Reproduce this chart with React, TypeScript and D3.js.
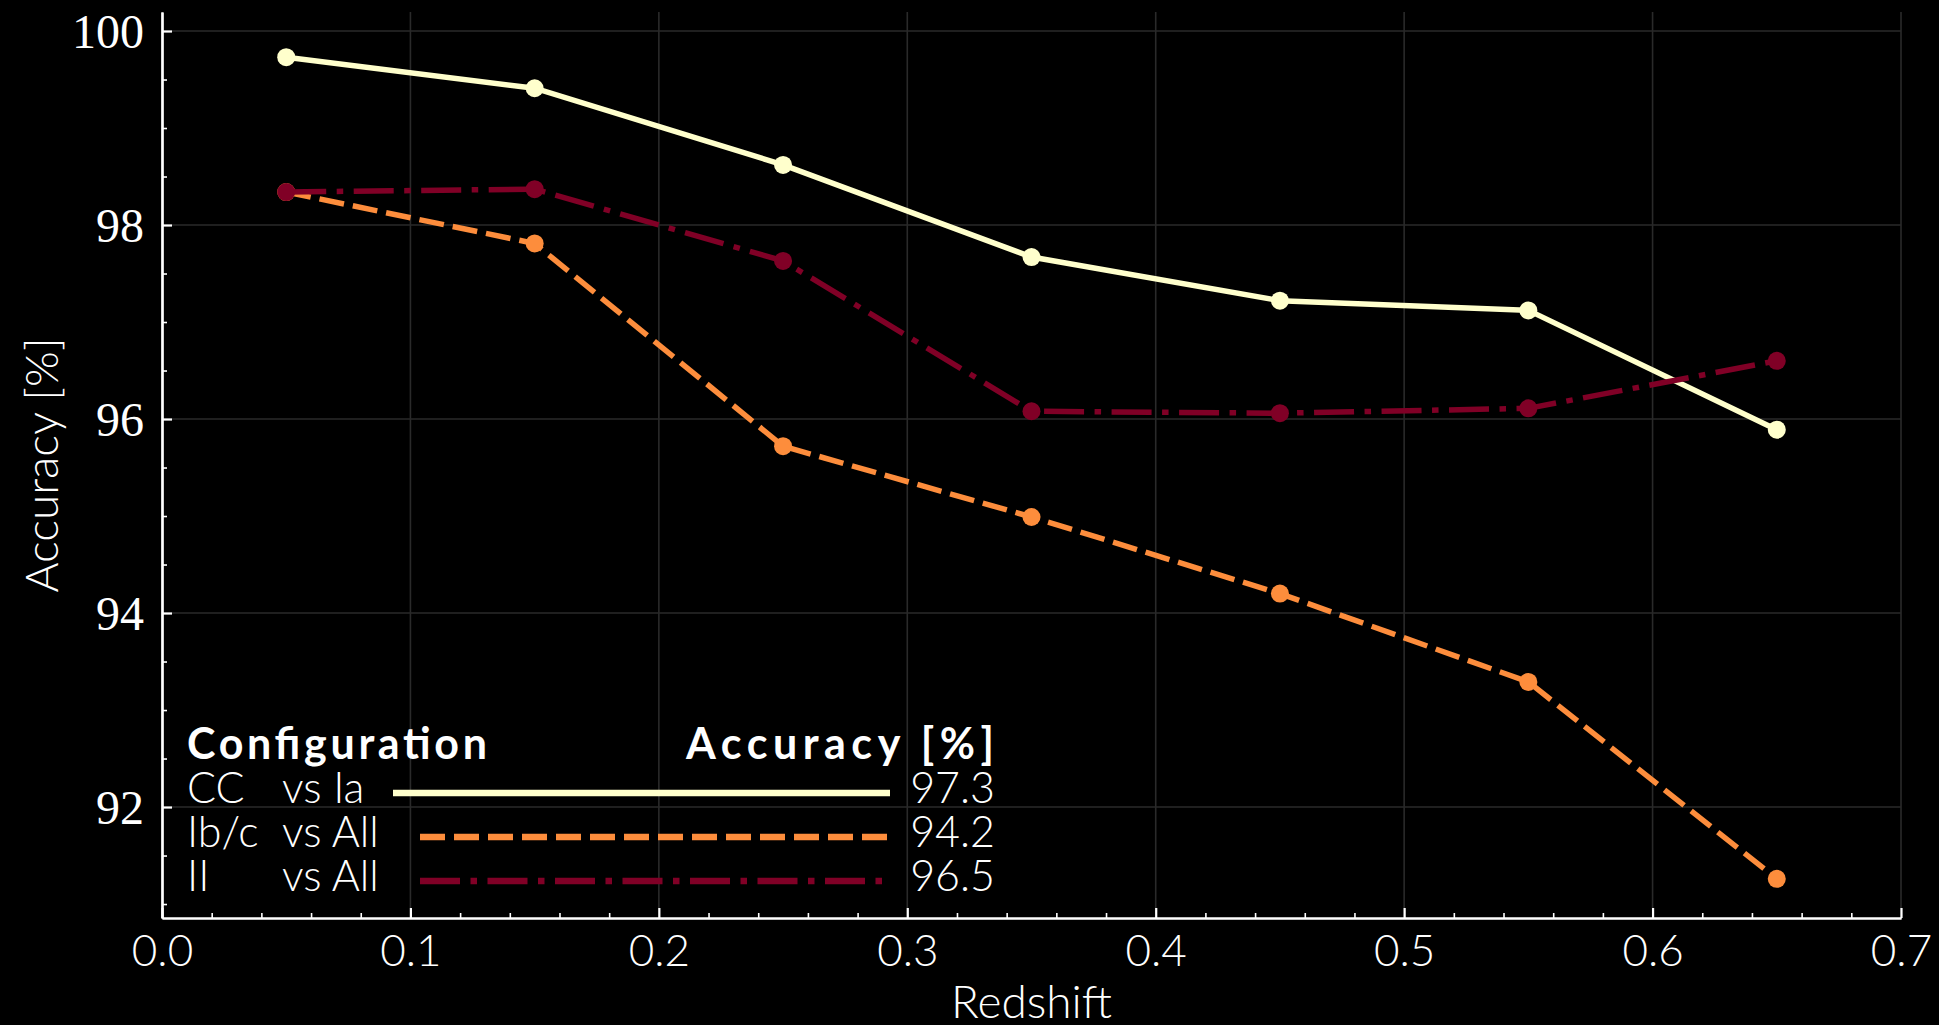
import React, { useEffect, useRef } from "react";
import * as d3 from "d3";

// redshift bins (bin centres)
const redshift = [0.05, 0.15, 0.25, 0.35, 0.45, 0.55, 0.65];

// accuracy per bin, in %
const ccVsIa = [99.73, 99.41, 98.62, 97.67, 97.22, 97.12, 95.89];
const ibcVsAll = [98.34, 97.81, 95.72, 94.99, 94.2, 93.29, 91.26];
const iiVsAll = [98.34, 98.37, 97.63, 96.08, 96.06, 96.11, 96.6];

// legend table
const legendConfig = ["CC", "Ib/c", "II"];
const legendVs = ["vs Ia", "vs All", "vs All"];
const legendAccuracy = ["97.3", "94.2", "96.5"];

const xTicks = [0, 0.1, 0.2, 0.3, 0.4, 0.5, 0.6, 0.7];
const yTicks = [92, 94, 96, 98, 100];

const SANS = "Lato, 'Open Sans', sans-serif";
const SERIF = "'Liberation Serif', 'DejaVu Serif', serif";

const App = () => {
    const chartRef = useRef<HTMLDivElement>(null);

    useEffect(() => {
        const width = 1939;
        const height = 1025;
        const left = 162;
        const right = 1901;
        const top = 12;
        const bottom = 918;

        d3.select(chartRef.current).select("svg").remove();

        const svg = d3
            .select(chartRef.current)
            .append("svg")
            .attr("width", width)
            .attr("height", height)
            .style("display", "block")
            .style("background", "#000");

        const x = d3.scaleLinear().domain([0, 0.7]).range([left, right]);
        const y = d3.scaleLinear().domain([90.856, 100.196]).range([bottom, top]);

        // grid
        const grid = svg.append("g").attr("stroke", "#2a2a2a").attr("stroke-width", 1.6);
        grid.selectAll(".gx")
            .data(xTicks)
            .enter()
            .append("line")
            .attr("x1", (d) => x(d))
            .attr("x2", (d) => x(d))
            .attr("y1", top)
            .attr("y2", bottom);
        grid.selectAll(".gy")
            .data(yTicks)
            .enter()
            .append("line")
            .attr("x1", left)
            .attr("x2", right)
            .attr("y1", (d) => y(d))
            .attr("y2", (d) => y(d));

        // axes, ticks pointing inward
        const xMinor = d3.range(1, 35).map((i) => i * 0.02).filter((_, i) => (i + 1) % 5 !== 0);
        const yMinor = d3.range(91, 100.01, 0.5).filter((d) => d % 2 !== 0);

        const styleAxis = (g) => {
            g.select(".domain").attr("stroke", "#fff").attr("stroke-width", 2.2);
            g.selectAll(".tick line").attr("stroke", "#fff");
        };

        svg.append("g")
            .attr("transform", `translate(0,${bottom})`)
            .call(d3.axisBottom(x).tickValues(xMinor).tickSizeInner(-5).tickSizeOuter(0).tickFormat(() => ""))
            .call(styleAxis)
            .selectAll(".tick line")
            .attr("stroke-width", 1.6);

        const xAxis = svg.append("g")
            .attr("transform", `translate(0,${bottom})`)
            .call(d3.axisBottom(x).tickValues(xTicks).tickSizeInner(-10).tickSizeOuter(0).tickPadding(17).tickFormat(d3.format(".1f")))
            .call(styleAxis);
        xAxis.selectAll(".tick line").attr("stroke-width", 2.2);
        xAxis.selectAll(".tick text")
            .attr("fill", "#fff")
            .style("font-family", SANS)
            .style("font-weight", 300)
            .style("font-size", "44px");

        svg.append("g")
            .attr("transform", `translate(${left},0)`)
            .call(d3.axisLeft(y).tickValues(yMinor).tickSizeInner(-5).tickSizeOuter(0).tickFormat(() => ""))
            .call(styleAxis)
            .selectAll(".tick line")
            .attr("stroke-width", 1.6);

        const yAxis = svg.append("g")
            .attr("transform", `translate(${left},0)`)
            .call(d3.axisLeft(y).tickValues(yTicks).tickSizeInner(-10).tickSizeOuter(0).tickPadding(18))
            .call(styleAxis);
        yAxis.selectAll(".tick line").attr("stroke-width", 2.2);
        yAxis.selectAll(".tick text")
            .attr("fill", "#fff")
            .attr("dy", "0.35em")
            .style("font-family", SERIF)
            .style("font-size", "48px");

        // axis labels
        svg.append("text")
            .attr("x", (left + right) / 2)
            .attr("y", 1018)
            .attr("text-anchor", "middle")
            .attr("fill", "#fff")
            .style("font-family", SANS)
            .style("font-weight", 300)
            .style("font-size", "46px")
            .text("Redshift");

        svg.append("text")
            .attr("transform", `translate(58,${(top + bottom) / 2}) rotate(-90)`)
            .attr("text-anchor", "middle")
            .attr("fill", "#fff")
            .style("font-family", SANS)
            .style("font-weight", 300)
            .style("font-size", "46px")
            .text("Accuracy [%]");

        // series
        const series = [
            { values: ccVsIa, color: "#ffffcc", dash: null },
            { values: ibcVsAll, color: "#fd8d3c", dash: "25,9" },
            { values: iiVsAll, color: "#800026", dash: "40,10.5,6.5,10.5" },
        ];

        const line = d3
            .line<number>()
            .x((_, i) => x(redshift[i]))
            .y((d) => y(d));

        series.forEach((s) => {
            svg.append("path")
                .datum(s.values)
                .attr("d", line)
                .attr("fill", "none")
                .attr("stroke", s.color)
                .attr("stroke-width", 5.5)
                .attr("stroke-dasharray", s.dash);

            svg.selectAll(null)
                .data(s.values)
                .enter()
                .append("circle")
                .attr("cx", (_, i) => x(redshift[i]))
                .attr("cy", (d) => y(d))
                .attr("r", 9)
                .attr("fill", s.color);
        });

        // legend table
        const legend = svg.append("g")
            .attr("fill", "#fff")
            .style("font-family", SANS)
            .style("font-size", "43px");

        legend.append("text")
            .attr("x", 187)
            .attr("y", 759)
            .attr("textLength", 300)
            .style("font-weight", "bold")
            .text("Configuration");
        legend.append("text")
            .attr("x", 686)
            .attr("y", 759)
            .attr("textLength", 308)
            .style("font-weight", "bold")
            .text("Accuracy [%]");

        const lineStart = [393, 420, 420];
        series.forEach((s, i) => {
            const base = 803 + i * 44;
            legend.append("text").attr("x", 187).attr("y", base).style("font-weight", 300).text(legendConfig[i]);
            legend.append("text").attr("x", 282).attr("y", base).style("font-weight", 300).text(legendVs[i]);
            legend.append("text")
                .attr("x", 995)
                .attr("y", base)
                .attr("text-anchor", "end")
                .style("font-weight", 300)
                .text(legendAccuracy[i]);
            legend.append("line")
                .attr("x1", lineStart[i])
                .attr("x2", 890)
                .attr("y1", base - 10)
                .attr("y2", base - 10)
                .attr("stroke", s.color)
                .attr("stroke-width", 6.5)
                .attr("stroke-dasharray", s.dash);
        });
    }, []);

    return (
        <div
            ref={chartRef}
            style={{ position: "absolute", left: 0, top: 0, width: 1939, height: 1025, background: "#000" }}
        ></div>
    );
};

export default App;
